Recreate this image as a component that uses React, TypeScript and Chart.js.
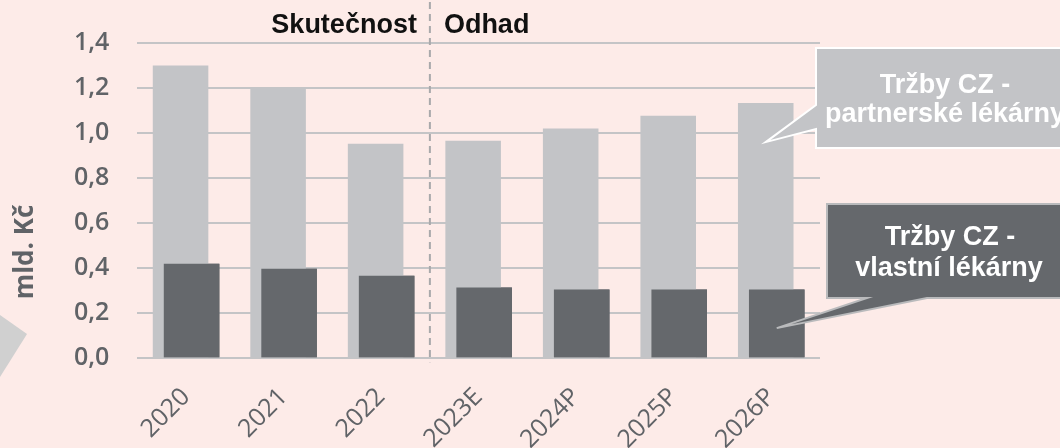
import React, { useEffect, useRef } from "react";
import { Chart, registerables } from "chart.js";

Chart.register(...registerables);

const categories = ["2020", "2021", "2022", "2023E", "2024P", "2025P", "2026P"];
const partnerSales = [1.3, 1.2, 0.953, 0.966, 1.02, 1.077, 1.134];
const ownSales = [0.42, 0.398, 0.367, 0.314, 0.305, 0.305, 0.305];
const periodLabels = ["Skutečnost", "Odhad"];
const partnerCallout = ["Tržby CZ -", "partnerské lékárny"];
const ownCallout = ["Tržby CZ -", "vlastní lékárny"];
const axisTitle = "mld. Kč";

const BG = "#fdebe8";
const LIGHT = "#c3c4c7";
const DARK = "#65686c";
const TICK = "#606367";
const GRID = "#c4c4c6";
const ARIAL_BOLD = "bold 27px 'Liberation Sans', Arial, sans-serif";

const overlay = {
  id: "overlay",
  beforeDraw(chart: any) {
    const { ctx, width, height } = chart;
    ctx.save();
    ctx.fillStyle = BG;
    ctx.fillRect(0, 0, width, height);
    ctx.restore();
  },
  afterDatasetsDraw(chart: any) {
    const { ctx } = chart;
    // draw the dark (own pharmacies) bars above the light ones
    chart.getDatasetMeta(1).controller.draw();
    const xs = chart.scales.x;
    const divX = (xs.getPixelForValue(2) + xs.getPixelForValue(3)) / 2;
    ctx.save();
    ctx.strokeStyle = "#a9a9ab";
    ctx.lineWidth = 2;
    ctx.setLineDash([7, 5]);
    ctx.beginPath();
    ctx.moveTo(divX, 2);
    ctx.lineTo(divX, chart.chartArea.bottom + 4);
    ctx.stroke();
    ctx.restore();
  },
  afterDraw(chart: any) {
    const { ctx } = chart;
    const xs = chart.scales.x;
    const ys = chart.scales.y;
    const divX = (xs.getPixelForValue(2) + xs.getPixelForValue(3)) / 2;
    ctx.save();
    // period labels
    ctx.fillStyle = "#111111";
    ctx.font = ARIAL_BOLD;
    ctx.textBaseline = "alphabetic";
    ctx.textAlign = "right";
    ctx.fillText(periodLabels[0], divX - 13, 33);
    ctx.textAlign = "left";
    ctx.fillText(periodLabels[1], divX + 14, 33);

    // axis title
    ctx.save();
    ctx.translate(33, 252);
    ctx.rotate(-Math.PI / 2);
    ctx.fillStyle = TICK;
    ctx.font = "bold 26px 'Open Sans', sans-serif";
    ctx.textAlign = "center";
    ctx.textBaseline = "alphabetic";
    ctx.fillText(axisTitle, 0, 0);
    ctx.restore();

    // decorative triangle bottom-left
    ctx.fillStyle = "#d0d0d0";
    ctx.beginPath();
    ctx.moveTo(0, 315);
    ctx.lineTo(27, 334);
    ctx.lineTo(0, 377);
    ctx.closePath();
    ctx.fill();

    const m0 = chart.getDatasetMeta(0).data[6];
    const m1 = chart.getDatasetMeta(1).data[6];

    // partner callout
    const tip1x = m0.x;
    const tip1y = ys.getPixelForValue(0.96);
    ctx.beginPath();
    ctx.moveTo(816, 48);
    ctx.lineTo(1064, 48);
    ctx.lineTo(1064, 148);
    ctx.lineTo(816, 148);
    ctx.lineTo(816, 129);
    ctx.lineTo(tip1x, tip1y);
    ctx.lineTo(816, 105);
    ctx.closePath();
    ctx.fillStyle = LIGHT;
    ctx.fill();
    ctx.strokeStyle = "#ffffff";
    ctx.lineWidth = 2;
    ctx.stroke();

    // own callout
    const tip2x = m1.x;
    const tip2y = ys.getPixelForValue(0.134);
    ctx.beginPath();
    ctx.moveTo(827, 204);
    ctx.lineTo(1064, 204);
    ctx.lineTo(1064, 298);
    ctx.lineTo(927, 298);
    ctx.lineTo(tip2x, tip2y);
    ctx.lineTo(867, 298);
    ctx.lineTo(827, 298);
    ctx.closePath();
    ctx.fillStyle = DARK;
    ctx.fill();
    ctx.strokeStyle = "#b9babc";
    ctx.lineWidth = 2;
    ctx.stroke();

    ctx.fillStyle = "#ffffff";
    ctx.font = ARIAL_BOLD;
    ctx.textAlign = "center";
    ctx.textBaseline = "alphabetic";
    ctx.fillText(partnerCallout[0], 945, 93);
    ctx.fillText(partnerCallout[1], 945, 122);
    ctx.fillText(ownCallout[0], 950, 245);
    ctx.fillText(ownCallout[1], 949, 276);
    ctx.restore();
  },
};

export default function App() {
  const ref = useRef<HTMLCanvasElement>(null);
  useEffect(() => {
    document.body.style.margin = "0";
    document.body.style.background = BG;
    const chart = new Chart(ref.current as HTMLCanvasElement, {
      type: "bar",
      data: {
        labels: categories,
        datasets: [
          {
            label: partnerCallout.join(" "),
            data: partnerSales,
            backgroundColor: LIGHT,
            categoryPercentage: 22 / 97.5,
            barPercentage: 5.05,
          },
          {
            label: ownCallout.join(" "),
            data: ownSales,
            backgroundColor: DARK,
            categoryPercentage: 22 / 97.5,
            barPercentage: 5.05,
          },
        ],
      },
      options: {
        responsive: false,
        animation: false,
        devicePixelRatio: 1,
        layout: { padding: { top: 40.6, right: 240, left: 0, bottom: 0 } },
        plugins: { legend: { display: false }, tooltip: { enabled: false } },
        scales: {
          x: {
            grid: { display: false },
            border: { display: false },
            ticks: {
              color: TICK,
              font: { family: "'Open Sans', sans-serif", size: 25, weight: 500 },
              minRotation: 45,
              maxRotation: 45,
              padding: 16,
            },
            afterFit(scale: any) {
              scale.height = 89.7;
            },
          },
          y: {
            min: 0,
            max: 1.4,
            border: { display: false },
            grid: { color: GRID, lineWidth: 2, drawTicks: false },
            ticks: {
              stepSize: 0.2,
              color: TICK,
              padding: 28,
              font: { family: "'Open Sans', sans-serif", size: 25, weight: 600 },
              callback: (v: any) => Number(v).toFixed(1).replace(".", ","),
            },
            afterFit(scale: any) {
              scale.width = 137.3;
            },
          },
        },
      },
      plugins: [overlay],
    });
    return () => chart.destroy();
  }, []);
  return (
    <div style={{ width: 1060, height: 448, background: BG }}>
      <canvas ref={ref} width={1060} height={448} style={{ display: "block" }} />
    </div>
  );
}
